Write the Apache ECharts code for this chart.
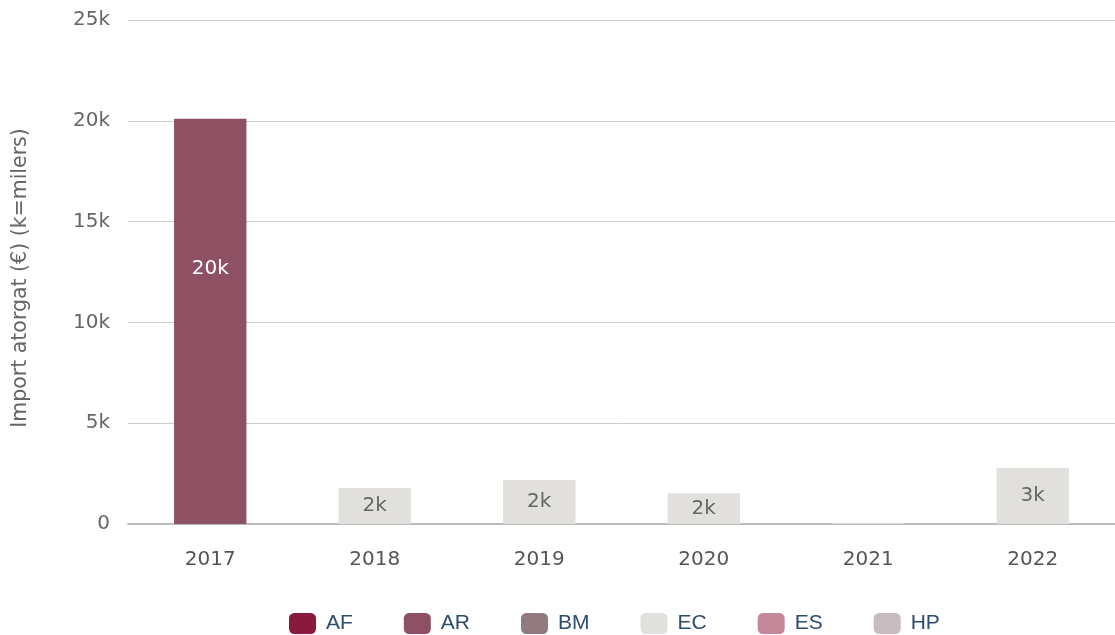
<!DOCTYPE html>
<html><head><meta charset="utf-8">
<script src="https://cdn.jsdelivr.net/npm/echarts@6/dist/echarts.min.js"></script>
<style>html,body{margin:0;padding:0;background:#fff}#c{width:1115px;height:635px}</style>
</head><body><div id="c"></div>
<script>
const years = ['2017','2018','2019','2020','2021','2022'];
const seriesNames = ['AF','AR','BM','EC','ES','HP'];
const AF = [null,null,null,null,null,null];
const AR = [20100,null,null,null,null,null];
const BM = [null,null,null,null,null,null];
const EC = [null,1790,2180,1520,40,2780];
const ES = [null,null,null,null,null,null];
const HP = [null,null,null,null,null,null];
const yTicks = [0,5000,10000,15000,20000,25000];
const colors = ['#8a1a3c','#8e5163','#927b80','#e1e0dd','#c4889a','#c9bcc1'];
const values = {AF,AR,BM,EC,ES,HP};
const fmt = v => v === 0 ? '0' : (v/1000) + 'k';
const chart = echarts.init(document.getElementById('c'));
chart.setOption({
  animation:false,
  color: colors,
  textStyle:{fontFamily:'DejaVu Sans'},
  grid:{left:128,right:0,top:20,bottom:111},
  legend:{bottom:1,left:289,padding:0,itemWidth:27,itemHeight:21,itemGap:51,icon:'roundRect',
    textStyle:{fontSize:21,color:'#2f4b6e',fontFamily:'Liberation Sans',padding:[4,0,0,5]},
    data:seriesNames},
  xAxis:{type:'category',data:years,
    axisLine:{lineStyle:{color:'#bbb',width:2}},
    axisTick:{length:15,lineStyle:{color:'#bbb',width:2}},
    axisLabel:{fontSize:20,color:'#555',margin:26}},
  yAxis:{type:'value',min:yTicks[0],max:yTicks[yTicks.length-1],interval:5000,
    name:'Import atorgat (€) (k=milers)',nameLocation:'middle',nameGap:97,
    nameTextStyle:{fontSize:20.5,color:'#666',padding:[0,12,0,0]},
    axisLabel:{fontSize:20,color:'#666',margin:18,formatter:v=>fmt(v)},
    splitLine:{lineStyle:{color:'#ccc',width:1}}},
  series: seriesNames.map((n,i)=>({
    name:n,type:'bar',stack:'t',barWidth:'44%',
    data: values[n],
    label:{show:true,
      position: n==='AR' ? ['50%','37%'] : 'inside',
      align:'center',verticalAlign:'middle',
      fontSize:20,color: n==='EC' ? '#666' : '#fff',
      formatter:p => (p.value==null || p.value<500) ? '' : Math.round(p.value/1000)+'k'}
  }))
});
</script></body></html>
